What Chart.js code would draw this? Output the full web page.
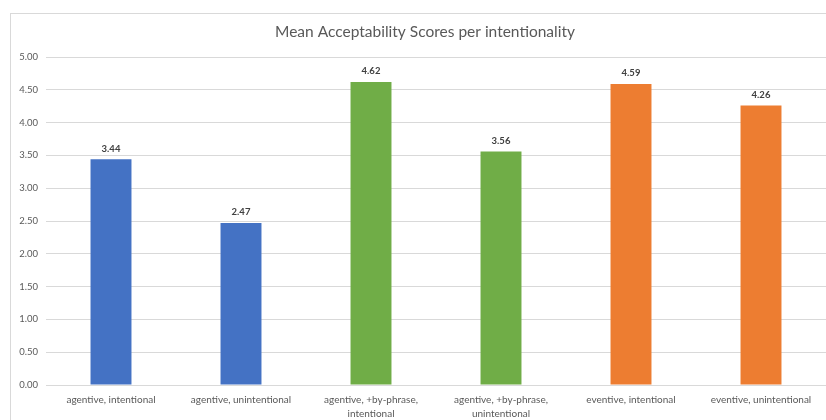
<!DOCTYPE html>
<html>
<head>
<meta charset="utf-8">
<script src="https://cdn.jsdelivr.net/npm/chart.js@4/dist/chart.umd.min.js"></script>
<style>
  html, body { margin: 0; padding: 0; background: #fff; }
  #wrap { position: relative; width: 826px; height: 420px; overflow: hidden; }
  #frame { position: absolute; left: 10px; top: 13px; width: 840px; height: 440px; border: 1px solid #d9d9d9; box-sizing: border-box; }
  canvas { position: absolute; left: 0; top: 0; }
</style>
</head>
<body>
<div id="wrap">
  <div id="frame"></div>
  <canvas id="chart" width="826" height="420"></canvas>
</div>
<script>
const chartTitle = 'Mean Acceptability Scores per intentionality';
const categories = [
    'agentive, intentional',
    'agentive, unintentional',
    ['agentive, +by-phrase,', 'intentional'],
    ['agentive, +by-phrase,', 'unintentional'],
    'eventive, intentional',
    'eventive, unintentional'
];
const scores = [3.44, 2.47, 4.62, 3.56, 4.59, 4.26];
const barColors = ['#4472C4', '#4472C4', '#70AD47', '#70AD47', '#ED7D31', '#ED7D31'];
const yTicks = [0, 0.5, 1, 1.5, 2, 2.5, 3, 3.5, 4, 4.5, 5];

const fontFamily = 'Lato, "Open Sans", sans-serif';

// title drawn by hand so it can sit slightly right of the canvas centre, like the original
const titlePlugin = {
    id: 'titlePlugin',
    afterDraw(chart) {
        const ctx = chart.ctx;
        ctx.save();
        ctx.font = '15.5px ' + fontFamily;
        ctx.fillStyle = '#595959';
        ctx.textAlign = 'center';
        ctx.textBaseline = 'middle';
        ctx.fillText(chartTitle, 425, 32);
        ctx.restore();
    }
};

// draws the value above each bar
const valueLabels = {
    id: 'valueLabels',
    afterDatasetsDraw(chart) {
        const ctx = chart.ctx;
        const meta = chart.getDatasetMeta(0);
        ctx.save();
        ctx.font = 'bold 9.5px ' + fontFamily;
        ctx.fillStyle = '#404040';
        ctx.textAlign = 'center';
        ctx.textBaseline = 'bottom';
        meta.data.forEach(function(bar, i) {
            ctx.fillText(scores[i].toFixed(2), bar.x, bar.y - 6);
        });
        ctx.restore();
    }
};

const ctx = document.getElementById('chart').getContext('2d');
const chart = new Chart(ctx, {
    type: 'bar',
    data: {
        labels: categories,
        datasets: [{
            label: 'Mean Acceptability',
            data: scores,
            backgroundColor: barColors,
            borderWidth: 0,
            barPercentage: 1,
            categoryPercentage: 0.315
        }]
    },
    options: {
        responsive: false,
        animation: false,
        layout: { padding: { left: 10, top: 57, right: 0, bottom: 0 } },
        plugins: {
            legend: { display: false },
            tooltip: { enabled: false },
            title: { display: false }
        },
        scales: {
            x: {
                grid: { display: false, drawTicks: false },
                border: { color: '#d9d9d9' },
                ticks: {
                    color: '#595959',
                    font: { family: fontFamily, size: 10, lineHeight: 1.4 },
                    maxRotation: 0,
                    autoSkip: false,
                    padding: 8
                },
                afterFit(scale) { scale.height = 35; }
            },
            y: {
                min: 0,
                max: 5,
                afterBuildTicks(scale) { scale.ticks = yTicks.map(v => ({ value: v })); },
                grid: { color: '#d9d9d9', drawTicks: false },
                border: { display: false },
                ticks: {
                    color: '#595959',
                    font: { family: fontFamily, size: 9.5 },
                    padding: 8,
                    callback: v => Number(v).toFixed(2)
                },
                afterFit(scale) { scale.width = 36; }
            }
        }
    },
    plugins: [valueLabels, titlePlugin]
});
</script>
</body>
</html>
